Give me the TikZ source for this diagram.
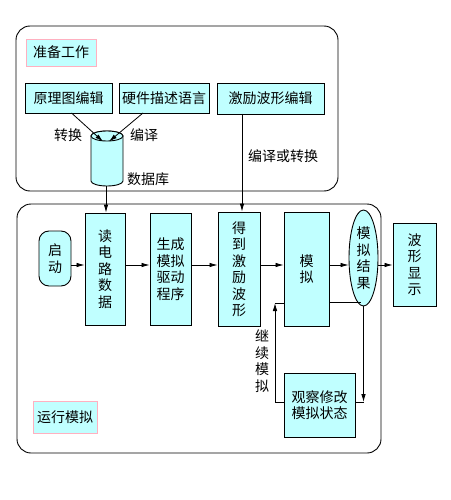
\documentclass[tikz,border=0pt]{standalone}
\usepackage{fontspec}
\setmainfont{Noto Sans CJK SC}
\usetikzlibrary{arrows.meta,shapes.geometric}
\definecolor{boxfill}{RGB}{192,255,255}
\definecolor{pinkb}{RGB}{255,176,192}
\begin{document}
\begin{tikzpicture}[x=1pt,y=-1pt,
  every node/.style={font=\fontsize{14}{16.5}\selectfont, inner sep=0pt},
  box/.style={draw=black, line width=0.9pt, fill=boxfill, align=center},
  lbl/.style={draw=pinkb, line width=0.9pt, fill=boxfill},
  frame/.style={draw=black, line width=0.9pt, rounded corners=14pt},
  arr/.style={line width=0.8pt, -{Latex[length=8pt,width=4.5pt]}},
  ln/.style={line width=0.8pt}]
\useasboundingbox (0,0) rectangle (450,500);
% frames
\draw[frame] (16,26) rectangle (338,191);
\draw[frame] (17,204) rectangle (381,453);
% top part
\node[lbl, minimum width=70pt, minimum height=27pt] (prep) at (61,52.5) {准备工作};
\node[box, minimum width=87pt, minimum height=30pt] (yl) at (68.5,98) {原理图编辑};
\node[box, minimum width=90pt, minimum height=30pt] (yj) at (164,98) {硬件描述语言};
\node[box, minimum width=107pt, minimum height=31pt] (jl) at (270.5,98.5) {激励波形编辑};
% database cylinder
\node[minimum width=32pt, minimum height=55pt] (db) at (107,158.5) {};
\fill[boxfill, draw=black, line width=0.9pt] (91,136) -- (91,181) arc[start angle=180, end angle=360, x radius=16pt, y radius=5pt] -- (123,136) arc[start angle=0, end angle=180, x radius=16pt, y radius=5pt] -- cycle;
\draw[line width=0.9pt, fill=boxfill] (107,136) ellipse[x radius=16pt, y radius=5pt];
\coordinate (dbt1) at (103,141.5);
\coordinate (dbt2) at (109,141.5);
\coordinate (yls) at (71.5,113);
\coordinate (yjs) at (143,113);
\draw[arr] (yls) -- (dbt1);
\draw[arr] (yjs) -- (dbt2);
\node (zh) at (68,135) {转换};
\node (by) at (144,135) {编译};
\node (sjk) at (148,179) {数据库};
\node (byzh) at (283,156) {编译或转换};
% bottom part
\node[box, rounded corners=10pt, minimum width=32pt, minimum height=55pt] (qd) at (55,258.5) {启\\动};
\node[box, minimum width=40pt, minimum height=112pt] (du) at (105,269) {读\\电\\路\\数\\据};
\node[box, minimum width=41pt, minimum height=112pt] (sc) at (170.5,269) {生成\\模拟\\驱动\\程序};
\node[box, minimum width=42pt, minimum height=114pt] (dd) at (239,269) {得\\到\\激\\励\\波\\形};
\node[box, minimum width=45pt, minimum height=114pt] (mn) at (306.5,269) {模\\拟};
\node[box, ellipse, minimum width=29pt, minimum height=96pt] (jg) at (363.5,258) {模\\拟\\结\\果};
\node[box, minimum width=43pt, minimum height=83pt] (bx) at (414.5,264.5) {波\\形\\显\\示};
\node[box, minimum width=71pt, minimum height=64pt] (gc) at (319.5,405) {观察修改\\模拟状态};
\node[lbl, minimum width=64pt, minimum height=32pt] (run) at (65,417) {运行模拟};
\node[align=center] (jx) at (262,361) {继\\续\\模\\拟};
% vertical connectors from top
\coordinate (dbb) at (106,186);
\draw[arr] (dbb) -- (dbb |- du.north);
\coordinate (jls) at (242,114);
\draw[arr] (jls) -- (jls |- dd.north);
% main flow
\coordinate (r) at (0,265);
\draw[arr] (qd.east |- r) -- (du.west |- r);
\draw[arr] (du.east |- r) -- (sc.west |- r);
\draw[arr] (sc.east |- r) -- (dd.west |- r);
\draw[arr] (dd.east |- r) -- (mn.west |- r);
\draw[arr] (mn.east |- r) -- (jg.west |- r);
\draw[arr] (jg.east |- r) -- (bx.west |- r);
% loop
\coordinate (m1) at (361,302);
\draw[ln] (mn.east |- m1) -- (m1);
\coordinate (c1) at (363.5,402);
\draw[arr] (jg.south) -- (c1);
\draw[ln] (gc.east |- c1) -- (c1);
\coordinate (c2) at (275,402);
\coordinate (c3) at (275,303);
\draw[ln] (gc.west |- c2) -- (c2);
\draw[arr] (c2) -- (c3);
\draw[ln] (c3) -- (mn.west |- c3);
\end{tikzpicture}
\end{document}
